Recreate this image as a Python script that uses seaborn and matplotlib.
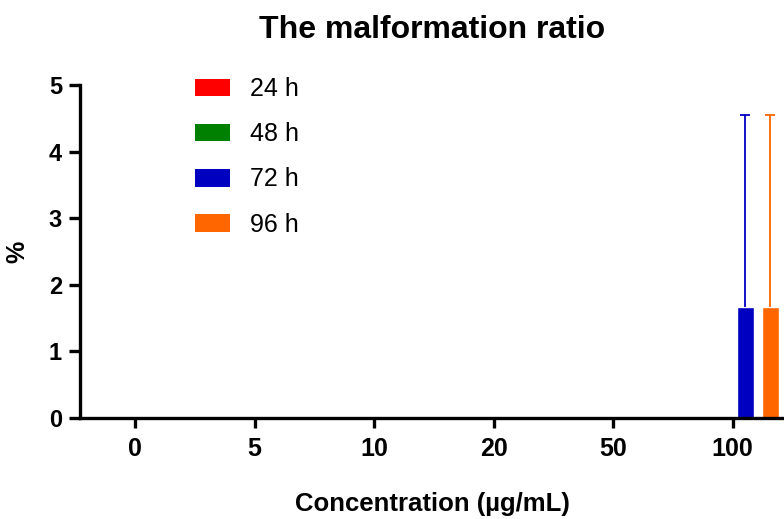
import numpy as np
import pandas as pd
import matplotlib.pyplot as plt
import seaborn as sns
from matplotlib import font_manager

# Values
concentrations = ["0", "5", "10", "20", "50", "100"]
times = ["24 h", "48 h", "72 h", "96 h"]
mean_24h = [0, 0, 0, 0, 0, 0]
mean_48h = [0, 0, 0, 0, 0, 0]
mean_72h = [0, 0, 0, 0, 0, 1.667]
mean_96h = [0, 0, 0, 0, 0, 1.667]
sd_24h = [0, 0, 0, 0, 0, 0]
sd_48h = [0, 0, 0, 0, 0, 0]
sd_72h = [0, 0, 0, 0, 0, 2.887]
sd_96h = [0, 0, 0, 0, 0, 2.887]
colors = ["#FF0000", "#008000", "#0000C0", "#FF6600"]

means = [mean_24h, mean_48h, mean_72h, mean_96h]
sds = [sd_24h, sd_48h, sd_72h, sd_96h]

rows = []
for t, m in zip(times, means):
    for c, v in zip(concentrations, m):
        rows.append({"conc": c, "time": t, "ratio": v})
df = pd.DataFrame(rows)

sns.set_style("ticks")
plt.rcParams['font.family'] = ['Liberation Sans', 'DejaVu Sans']
plt.rcParams['font.weight'] = 'bold'
for key in ['text.color', 'axes.labelcolor', 'xtick.color', 'ytick.color', 'axes.edgecolor']:
    plt.rcParams[key] = 'black'

# narrow face for the x tick labels if it is there
names = {f.name for f in font_manager.fontManager.ttflist}
narrow = 'Liberation Sans Narrow' if 'Liberation Sans Narrow' in names else 'Liberation Sans'

fig = plt.figure(figsize=(7.84, 5.19), dpi=100)
ax = fig.add_axes([80 / 784, 101 / 519, 1 - 80 / 784, 333 / 519])

sns.barplot(data=df, x="conc", y="ratio", hue="time", order=concentrations,
            hue_order=times, palette=colors, width=0.835, gap=0.32,
            errorbar=None, legend=False, saturation=1, ax=ax)

# upper-only error bars, coloured like the bars
for cont, sd, col in zip(ax.containers, sds, colors):
    sd = np.array(sd)
    for patch, s in zip(cont.patches, sd):
        if s > 0:
            x = patch.get_x() + patch.get_width() / 2
            eb = ax.errorbar(x, patch.get_height(), yerr=[[0], [s]], fmt="none",
                             ecolor=col, elinewidth=1.3, capsize=3.5, capthick=1.3)
            eb[1][0].set_visible(False)  # no cap at the bar top

ax.set_ylim(0, 5)
ax.set_xlim(-0.46, 5.43)
ax.set_yticks([0, 1, 2, 3, 4, 5])

sns.despine(ax=ax)
for s in ["left", "bottom"]:
    ax.spines[s].set_linewidth(2.4)
ax.tick_params(axis="y", length=8, width=2.4, labelsize=17, pad=5)
ax.tick_params(axis="x", length=7, width=2.4, labelsize=18, pad=7)
for lab in ax.get_yticklabels():
    lab.set_fontweight("bold")
for lab in ax.get_xticklabels():
    lab.set_fontweight("bold")
    lab.set_family([narrow, 'DejaVu Sans'])

ax.set_xlabel("Concentration (µg/mL)", fontsize=18.5, fontweight="bold", labelpad=22)
ax.set_ylabel("%", fontsize=18, fontweight="bold", labelpad=14)
ax.set_title("The malformation ratio", fontsize=23, fontweight="bold", pad=34)

handles = [plt.Rectangle((0, 0), 1, 1, facecolor=c, edgecolor="none") for c in colors]
leg = ax.legend(handles, times, loc="upper left",
                bbox_to_anchor=(195 / 784, 1 - 77 / 519),
                bbox_transform=fig.transFigure, frameon=False,
                fontsize=18, handlelength=1.4, handleheight=0.7,
                handletextpad=0.8, labelspacing=0.85, borderpad=0, borderaxespad=0)
for t in leg.get_texts():
    t.set_fontweight("normal")

plt.savefig("out.png", dpi=100)
